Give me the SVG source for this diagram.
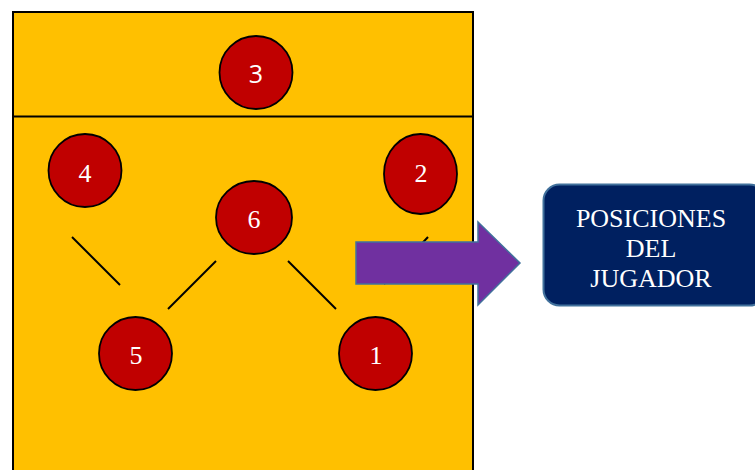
<svg xmlns="http://www.w3.org/2000/svg" width="755" height="470" viewBox="0 0 755 470">
<style>
.court{fill:#FFC000;stroke:#000;stroke-width:2}
.p{fill:#C00000;stroke:#000;stroke-width:1.8}
.n{fill:#fff;font-family:"Liberation Serif","Times New Roman",serif;font-size:26px;text-anchor:middle}
.ns{fill:#fff;font-family:"Open Sans","Liberation Sans",sans-serif;font-size:25px;text-anchor:middle}
.c{stroke:#000;stroke-width:2;fill:none}
.t{fill:#fff;font-family:"Liberation Serif","Times New Roman",serif;font-size:26px;text-anchor:middle}
</style>
<rect width="755" height="470" fill="#fff"/>
<g id="court">
<rect class="court" x="13" y="12" width="460" height="470"/>
<line x1="13" y1="116.5" x2="473" y2="116.5" stroke="#000" stroke-width="2"/>
</g>
<g id="connectors">
<line class="c" x1="72" y1="237" x2="120" y2="285"/>
<line class="c" x1="168" y1="309" x2="216" y2="261"/>
<line class="c" x1="288" y1="261" x2="336" y2="309"/>
<line class="c" x1="428" y1="237" x2="384" y2="284"/>
</g>
<g id="p3"><circle class="p" cx="256" cy="72.5" r="36.5"/><text class="ns" x="256" y="83">3</text></g>
<g id="p4"><circle class="p" cx="85" cy="170.5" r="36.5"/><text class="n" x="85" y="182">4</text></g>
<g id="p2"><ellipse class="p" cx="420.5" cy="174" rx="36.5" ry="40"/><text class="n" x="421" y="182">2</text></g>
<g id="p6"><ellipse class="p" cx="254" cy="217.5" rx="38" ry="36.5"/><text class="n" x="254" y="228">6</text></g>
<g id="p5"><circle class="p" cx="135.5" cy="353.5" r="36.5"/><text class="n" x="136" y="364">5</text></g>
<g id="p1"><circle class="p" cx="375.5" cy="353.5" r="36.5"/><text class="n" x="376" y="364">1</text></g>
<g id="arrow">
<polygon points="356,242 478,242 478,222 520,263 478,305 478,284 356,284" fill="#7030A0" stroke="#41719C" stroke-width="1.5"/>
</g>
<g id="label">
<rect x="543.5" y="184.5" width="222" height="121" rx="16" fill="#002060" stroke="#41719C" stroke-width="2"/>
<text class="t" x="651" y="227">POSICIONES</text>
<text class="t" x="651" y="257">DEL</text>
<text class="t" x="651" y="287">JUGADOR</text>
</g>
</svg>
